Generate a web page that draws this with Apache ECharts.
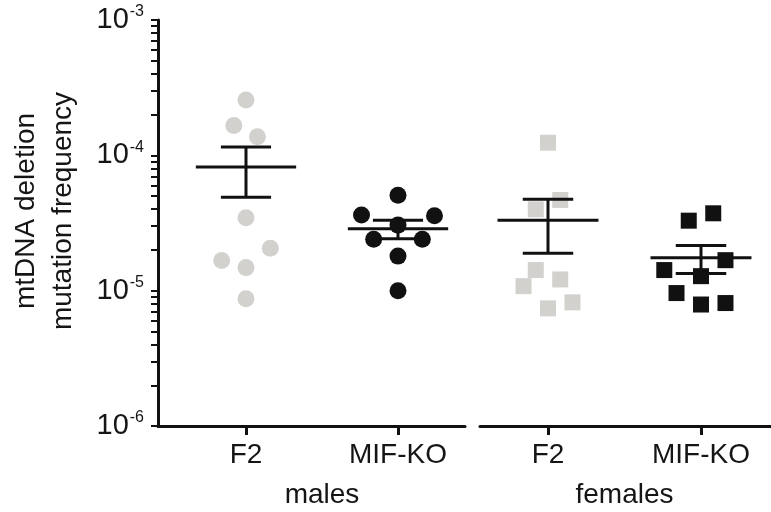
<!DOCTYPE html>
<html><head><meta charset="utf-8">
<script src="https://cdn.jsdelivr.net/npm/echarts@6/dist/echarts.min.js"></script>
<style>html,body{margin:0;padding:0;background:#fff}#c{width:771px;height:512px}</style>
</head><body><div id="c"></div>
<script>
// ---- data ----
const groups = ['males', 'females'];
const categories = ['F2', 'MIF-KO'];
const yTickValues = [1e-6, 1e-5, 1e-4, 1e-3];
const yMinorTickValues = [2e-6,3e-6,4e-6,5e-6,6e-6,7e-6,8e-6,9e-6,
                          2e-5,3e-5,4e-5,5e-5,6e-5,7e-5,8e-5,9e-5,
                          2e-4,3e-4,4e-4,5e-4,6e-4,7e-4,8e-4,9e-4];

const maleF2 = [2.56e-4, 1.66e-4, 1.37e-4, 3.46e-5, 2.06e-5, 1.67e-5, 1.48e-5, 8.7e-6];
const maleF2Jitter = [0, -0.08, 0.075, 0, 0.16, -0.16, 0, 0];
const maleKO = [5.07e-5, 3.62e-5, 3.58e-5, 3.05e-5, 2.40e-5, 2.40e-5, 1.80e-5, 1.0e-5];
const maleKOJitter = [0, -0.24, 0.24, 0, -0.16, 0.16, 0, 0];
const femaleF2 = [1.24e-4, 3.99e-5, 4.68e-5, 1.42e-5, 1.08e-5, 1.21e-5, 8.2e-6, 7.4e-6];
const femaleF2Jitter = [0, -0.08, 0.08, -0.08, -0.16, 0.08, 0.16, 0];
const femaleKO = [3.29e-5, 3.73e-5, 1.42e-5, 1.68e-5, 1.28e-5, 9.6e-6, 7.9e-6, 8.1e-6];
const femaleKOJitter = [-0.08, 0.08, -0.24, 0.16, 0, -0.16, 0, 0.16];

const maleMeans = [8.2e-5, 2.87e-5];
const maleSEM = [3.3e-5, 0.45e-5];
const femaleMeans = [3.31e-5, 1.75e-5];
const femaleSEM = [1.42e-5, 0.41e-5];

// ---- chart ----
const FONT = 'Liberation Sans, Arial, sans-serif';
const INK = '#111111';
const TXT = '#151515';
const GREY = '#d3d1ce';
const X0 = [0.4211, 2.4408];   // extent of the males x axis
const X1 = [0.5556, 2.4575];   // extent of the females x axis

function pts(vals, jit, pos) { return vals.map((v, i) => [pos + jit[i], v]); }

function errRender(params, api) {
  const x = api.value(0), m = api.value(1), s = api.value(2);
  const a = api.coord([x - 0.33, m]), b = api.coord([x + 0.33, m]);
  const t = api.coord([x, m + s]), d = api.coord([x, m - s]);
  const t1 = api.coord([x - 0.165, m + s]), t2 = api.coord([x + 0.165, m + s]);
  const d1 = api.coord([x - 0.165, m - s]), d2 = api.coord([x + 0.165, m - s]);
  const st = { stroke: INK, lineWidth: 3 };
  const L = (p, q) => ({ type: 'line', shape: { x1: p[0], y1: p[1], x2: q[0], y2: q[1] }, style: st });
  return { type: 'group', children: [L(a, b), L(t, d), L(t1, t2), L(d1, d2)] };
}

function xAxisMain(grid, ext) {
  return {
    gridIndex: grid, type: 'value', min: ext[0], max: ext[1], position: 'bottom',
    splitLine: { show: false },
    axisLine: { show: true, onZero: false, lineStyle: { color: INK, width: 3 } },
    axisTick: { show: true, customValues: [1, 2], length: 9, lineStyle: { color: INK, width: 3 } },
    axisLabel: { show: true, customValues: [1, 2], margin: 15,
      formatter: v => categories[Math.round(v) - 1],
      fontFamily: FONT, fontSize: 28, color: TXT }
  };
}
function xAxisGroup(grid, ext, name) {
  return {
    gridIndex: grid, type: 'value', min: ext[0], max: ext[1], position: 'bottom',
    splitLine: { show: false }, axisLine: { show: false }, axisTick: { show: false },
    axisLabel: { show: true, customValues: [1.5], margin: 55, formatter: () => name,
      fontFamily: FONT, fontSize: 28, color: TXT }
  };
}

const chart = echarts.init(document.getElementById('c'), null, { renderer: 'canvas' });
chart.setOption({
  animation: false,
  backgroundColor: '#ffffff',
  grid: [
    { left: 158, top: 20, width: 307, height: 406 },
    { left: 480, top: 20, width: 291, height: 406 }
  ],
  xAxis: [
    xAxisMain(0, X0),
    xAxisGroup(0, X0, groups[0]),
    xAxisMain(1, X1),
    xAxisGroup(1, X1, groups[1])
  ],
  yAxis: [
    {
      gridIndex: 0, type: 'log', logBase: 10, min: 1e-6, max: 1e-3,
      name: 'mtDNA deletion\nmutation frequency', nameLocation: 'middle', nameGap: 76, nameRotate: 90,
      nameTextStyle: { fontFamily: FONT, fontSize: 28, color: TXT, lineHeight: 37, padding: [0, 0, 0, 24] },
      splitLine: { show: false },
      axisLine: { show: true, lineStyle: { color: INK, width: 3 } },
      // major and minor ticks together on the log axis
      axisTick: { show: true, customValues: yTickValues.concat(yMinorTickValues), length: 7,
                  lineStyle: { color: INK, width: 2 } },
      axisLabel: {
        show: true, customValues: yTickValues, margin: 14,
        formatter: v => '{a|10}{b|' + Math.round(Math.log10(v)) + '}',
        rich: {
          a: { fontFamily: FONT, fontSize: 29, color: TXT },
          b: { fontFamily: FONT, fontSize: 16, color: TXT, verticalAlign: 'top', padding: [0, 0, 16, 1] }
        }
      }
    },
    {
      gridIndex: 1, type: 'log', logBase: 10, min: 1e-6, max: 1e-3, show: false
    }
  ],
  series: [
    { type: 'scatter', xAxisIndex: 0, yAxisIndex: 0, symbol: 'circle', symbolSize: 17,
      itemStyle: { color: GREY, opacity: 1 }, data: pts(maleF2, maleF2Jitter, 1), z: 2 },
    { type: 'scatter', xAxisIndex: 0, yAxisIndex: 0, symbol: 'circle', symbolSize: 17,
      itemStyle: { color: INK, opacity: 1 }, data: pts(maleKO, maleKOJitter, 2), z: 2 },
    { type: 'scatter', xAxisIndex: 2, yAxisIndex: 1, symbol: 'rect', symbolSize: 16,
      itemStyle: { color: GREY, opacity: 1 }, data: pts(femaleF2, femaleF2Jitter, 1), z: 2 },
    { type: 'scatter', xAxisIndex: 2, yAxisIndex: 1, symbol: 'rect', symbolSize: 16,
      itemStyle: { color: INK, opacity: 1 }, data: pts(femaleKO, femaleKOJitter, 2), z: 2 },
    { type: 'custom', xAxisIndex: 0, yAxisIndex: 0, renderItem: errRender, z: 5,
      data: categories.map((c, i) => [i + 1, maleMeans[i], maleSEM[i]]) },
    { type: 'custom', xAxisIndex: 2, yAxisIndex: 1, renderItem: errRender, z: 5,
      data: categories.map((c, i) => [i + 1, femaleMeans[i], femaleSEM[i]]) }
  ]
});
</script>
</body></html>
